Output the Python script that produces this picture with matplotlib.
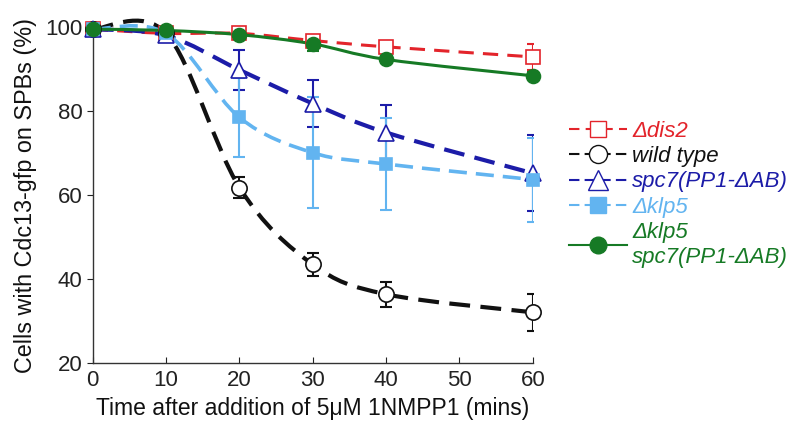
import matplotlib
matplotlib.use("Agg")
import matplotlib.pyplot as plt
import numpy as np
from matplotlib.path import Path
from matplotlib.patches import PathPatch
from matplotlib.lines import Line2D

plt.rcParams['font.family'] = ['Liberation Sans', 'DejaVu Sans']

# DATA
times = [0, 10, 20, 30, 40, 60]
dis2 = [99.5, 98.5, 98.5, 96.8, 95.3, 92.9]
dis2_err = [0, 0, 0.8, 1.0, 1.2, 3.0]
wt = [99.5, 98.5, 61.8, 43.5, 36.4, 32.1]
wt_err = [0, 0, 2.5, 2.8, 3.0, 4.4]
spc7 = [99.5, 98.0, 89.8, 81.8, 74.9, 65.2]
spc7_err = [0, 0, 4.8, 5.6, 6.6, 9.0]
klp5 = [99.5, 98.5, 78.5, 70.1, 67.4, 63.7]
klp5_err = [0, 0, 9.4, 13.2, 11.0, 10.0]
double = [99.5, 99.2, 98.2, 96.0, 92.3, 88.4]
double_err = [0, 0, 1.0, 1.8, 0.8, 0.8]

labels = ['Δdis2', 'wild type', 'spc7(PP1-ΔAB)', 'Δklp5', 'Δklp5\nspc7(PP1-ΔAB)']
colors = ['#e3242b', '#111111', '#1c1ca8', '#62b4f0', '#167a25']


#smoothed curve like the spreadsheet "smoothed line" option
def smoothPath(x, y):
    pts = np.column_stack([x, y]).astype(float)
    verts = [pts[0]]
    codes = [Path.MOVETO]
    n = len(pts)
    for i in range(n - 1):
        p0 = pts[i - 1] if i > 0 else pts[i]
        p1 = pts[i]
        p2 = pts[i + 1]
        p3 = pts[i + 2] if i + 2 < n else pts[i + 1]
        verts += [p1 + (p2 - p0) / 6, p2 - (p3 - p1) / 6, p2]
        codes += [Path.CURVE4] * 3
    return Path(verts, codes)


fig = plt.figure(figsize=(8, 4.37), dpi=100)
ax = fig.add_axes([0.116, 0.169, 0.55, 0.769])

series = [
    (dis2, dis2_err, 's', 'white', (0, (5, 3)), 2.2, 10),
    (wt, wt_err, 'o', 'white', (0, (5, 2.5)), 3.0, 11),
    (spc7, spc7_err, '^', 'white', (0, (5, 2.5)), 3.0, 12),
    (klp5, klp5_err, 's', None, (0, (5, 2.5)), 2.6, 9),
    (double, double_err, 'o', None, '-', 2.2, 10),
]

handles = []
for (vals, err, mk, mfc, ls, lw, ms), col, lab in zip(series, colors, labels):
    ax.add_patch(PathPatch(smoothPath(times, vals), fill=False, edgecolor=col,
                           linewidth=lw, linestyle=ls, capstyle='butt', zorder=2,
                           clip_on=False))
    ax.errorbar(times, vals, yerr=err, fmt='none', ecolor=col, elinewidth=1.5,
                capsize=4, capthick=1.5, zorder=3)
    fc = col if mfc is None else mfc
    ax.plot(times, vals, linestyle='none', marker=mk, markersize=ms,
            markerfacecolor=fc, markeredgecolor=col, markeredgewidth=1.2,
            zorder=4, clip_on=False)
    handles.append(Line2D([0], [0], color=col, linestyle=ls, linewidth=1.5,
                          marker=mk, markersize=ms + 2, markerfacecolor=fc,
                          markeredgecolor=col))

ax.set_xlim(0, 60)
ax.set_ylim(20, 100)
ax.set_xticks([0, 10, 20, 30, 40, 50, 60])
ax.set_yticks([20, 40, 60, 80, 100])
ax.spines['top'].set_visible(False)
ax.spines['right'].set_visible(False)
for s in ['left', 'bottom']:
    ax.spines[s].set_color('#333333')
    ax.spines[s].set_linewidth(1.0)
ax.tick_params(labelsize=16, length=4, colors='#222222')
ax.tick_params(axis='x', direction='in', pad=5)
ax.set_xlabel('Time after addition of 5\u03bcM 1NMPP1 (mins)', fontsize=16.5,
              color='#111111', labelpad=4)
ax.set_ylabel('Cells with Cdc13-gfp on SPBs (%)', fontsize=16.8, color='#111111',
              labelpad=6)

leg = fig.legend(handles, labels, loc='center left', bbox_to_anchor=(0.686, 0.556),
                 frameon=False, handlelength=2.6, handletextpad=0.26,
                 labelspacing=0.2, prop={'size': 16, 'style': 'italic'})
for t, col in zip(leg.get_texts(), colors):
    t.set_color(col)

fig.savefig('out.png', dpi=100)
